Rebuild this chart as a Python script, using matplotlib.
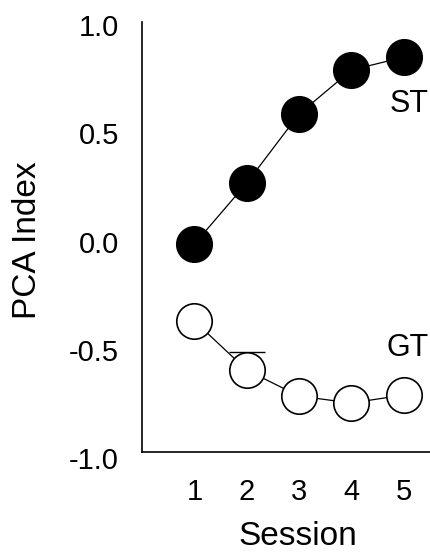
import numpy as np
from matplotlib import pyplot as plt

# 数据
sessions = [1, 2, 3, 4, 5]
st_index = [-0.012, 0.270, 0.589, 0.792, 0.852]
gt_index = [-0.367, -0.594, -0.714, -0.746, -0.709]
# 只有第2次的误差线露在圆外面, 其余被标记遮住
gt_err_up = [0.0, 0.084, 0.0, 0.0, 0.0]

yticks = [-1.0, -0.5, 0.0, 0.5, 1.0]
ytick_labels = ["-1.0", "-0.5", "0.0", "0.5", "1.0"]


def main():
    plt.rcParams["font.family"] = ["Liberation Sans", "DejaVu Sans"]

    fig = plt.figure(figsize=(4.3, 5.53), dpi=100)
    ax = fig.add_axes([0.3302, 0.1718, 0.6698, 0.7884])

    # GT 误差线 (只画上半部分, 只画看得见的)
    x = np.array(sessions)
    y = np.array(gt_index)
    e = np.array(gt_err_up)
    m = e > 0
    ax.errorbar(
        x[m], y[m],
        yerr=[np.zeros(m.sum()), e[m]],
        fmt="none", ecolor="black", elinewidth=1.0,
        capsize=13, capthick=1.0, zorder=1,
    )

    ax.plot(
        sessions, st_index,
        color="black", linewidth=0.9,
        marker="o", markersize=25.5,
        markerfacecolor="black", markeredgecolor="black", markeredgewidth=1.2,
        zorder=2,
    )
    ax.plot(
        sessions, gt_index,
        color="black", linewidth=0.9,
        marker="o", markersize=25.5,
        markerfacecolor="white", markeredgecolor="black", markeredgewidth=1.2,
        zorder=2,
    )

    ax.text(4.73, 0.635, "ST", fontsize=22, ha="left", va="center")
    ax.text(4.67, -0.492, "GT", fontsize=22, ha="left", va="center")

    ax.set_xlim(0, 5.5)
    ax.set_ylim(-1.0, 1.014)

    ax.spines["top"].set_visible(False)
    ax.spines["right"].set_visible(False)
    ax.spines["bottom"].set_position(("data", -0.972))
    ax.spines["left"].set_bounds(-0.972, 1.014)
    for s in ("left", "bottom"):
        ax.spines[s].set_linewidth(1.2)

    ax.set_xticks(sessions)
    ax.set_xticklabels([str(s) for s in sessions])
    ax.set_yticks(yticks)
    ax.set_yticklabels(ytick_labels)
    ax.tick_params(axis="x", length=0, pad=19, labelsize=21)
    ax.tick_params(axis="y", length=0, pad=16.5, labelsize=21)

    fig.text(28 / 430, (553 - 240) / 553, "PCA Index", fontsize=24,
             rotation=90, ha="center", va="center")
    fig.text(298 / 430, 1 / 553, "Session", fontsize=24,
             ha="center", va="bottom")

    fig.savefig("out.png", dpi=100)


if __name__ == "__main__":
    main()
